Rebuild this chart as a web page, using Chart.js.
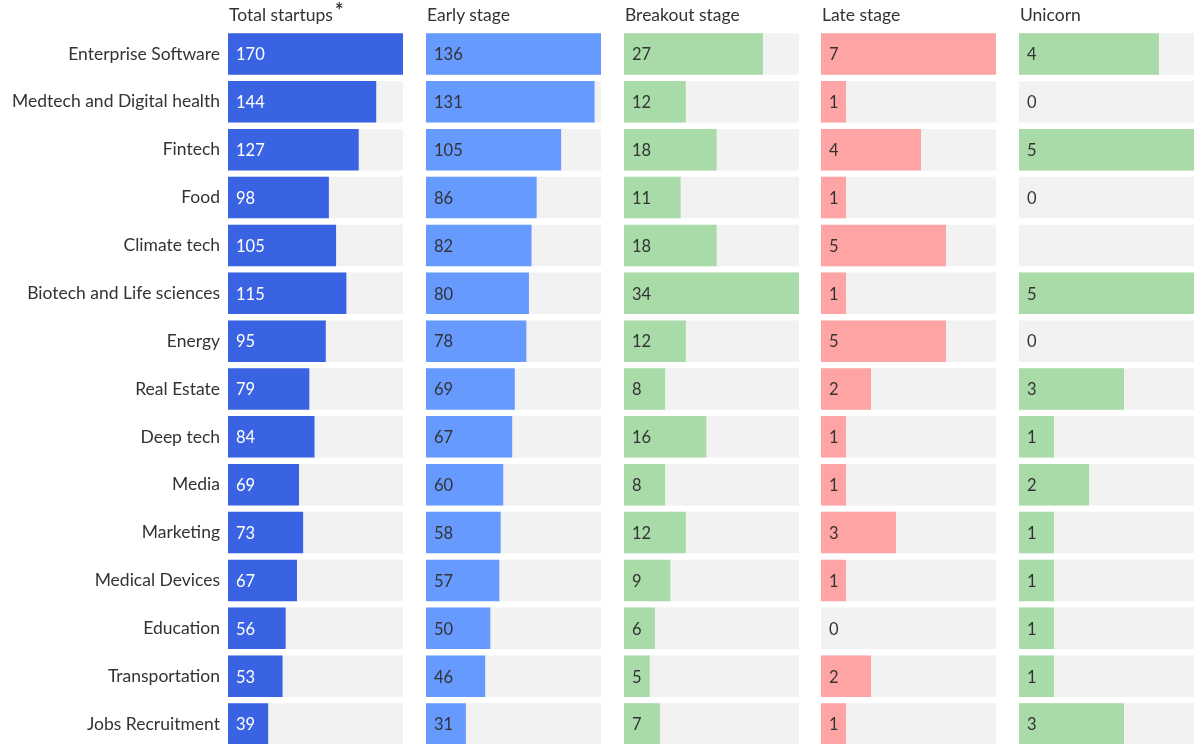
<!DOCTYPE html>
<html>
<head>
<meta charset="utf-8">
<script src="https://cdn.jsdelivr.net/npm/chart.js@4.4.1/dist/chart.umd.min.js"></script>
<style>
  html, body { margin: 0; padding: 0; background: #fff; overflow: hidden; }
  body { width: 1201px; height: 744px; position: relative; font-family: Lato, sans-serif; color: #333; }
  .col { position: absolute; top: 0; }
  .col canvas { display: block; }
  .head { position: absolute; top: 5px; font-size: 17.5px; line-height: 20px; white-space: nowrap; }
  .head sup { font-size: 20px; font-weight: bold; position: relative; top: 0px; vertical-align: top; line-height: 10px; margin-left: 2px; }
</style>
</head>
<body>
<script>
const categories = [
  'Enterprise Software', 'Medtech and Digital health', 'Fintech', 'Food', 'Climate tech',
  'Biotech and Life sciences', 'Energy', 'Real Estate', 'Deep tech', 'Media',
  'Marketing', 'Medical Devices', 'Education', 'Transportation', 'Jobs Recruitment'
]
const totalStartups = [170, 144, 127, 98, 105, 115, 95, 79, 84, 69, 73, 67, 56, 53, 39]
const earlyStage = [136, 131, 105, 86, 82, 80, 78, 69, 67, 60, 58, 57, 50, 46, 31]
const breakoutStage = [27, 12, 18, 11, 18, 34, 12, 8, 16, 8, 12, 9, 6, 5, 7]
const lateStage = [7, 1, 4, 1, 5, 1, 5, 2, 1, 1, 3, 1, 0, 2, 1]
const unicorn = [4, 0, 5, 0, null, 5, 0, 3, 1, 2, 1, 1, 1, 1, 3]
const headers = ['Total startups', 'Early stage', 'Breakout stage', 'Late stage', 'Unicorn']

const FONT = 'Lato, sans-serif'
const TRACK = '#f2f2f2'

const columns = [
  { title: headers[0], data: totalStartups, color: '#3a63e3', text: '#ffffff', left: 228, star: true },
  { title: headers[1], data: earlyStage, color: '#669aff', text: '#333333', left: 426 },
  { title: headers[2], data: breakoutStage, color: '#a8dba8', text: '#333333', left: 624 },
  { title: headers[3], data: lateStage, color: '#ffa4a4', text: '#333333', left: 821 },
  { title: headers[4], data: unicorn, color: '#a8dba8', text: '#333333', left: 1019 }
]
const COL_WIDTH = 175
const CANVAS_HEIGHT = 748

// value written inside the bar, near its start
const valueLabels = {
  id: 'valueLabels',
  afterDatasetsDraw(chart, args, opts) {
    const { ctx, chartArea } = chart
    const meta = chart.getDatasetMeta(0)
    const values = chart.data.datasets[0].data
    ctx.save()
    ctx.font = '16.5px ' + FONT
    ctx.fillStyle = opts.color
    ctx.textBaseline = 'middle'
    ctx.textAlign = 'left'
    meta.data.forEach((bar, i) => {
      if (values[i] === null) return
      ctx.fillText(String(values[i]), chartArea.left + 8, bar.y + 1)
    })
    ctx.restore()
  }
}

columns.forEach((col, idx) => {
  const first = idx === 0
  const width = first ? col.left + COL_WIDTH : COL_WIDTH
  const wrap = document.createElement('div')
  wrap.className = 'col'
  wrap.style.left = (first ? 0 : col.left) + 'px'
  const canvas = document.createElement('canvas')
  canvas.width = width
  canvas.height = CANVAS_HEIGHT
  wrap.appendChild(canvas)
  document.body.appendChild(wrap)

  const head = document.createElement('div')
  head.className = 'head'
  head.style.left = (col.left + 1) + 'px'
  head.innerHTML = col.title + (col.star ? '<sup>*</sup>' : '')
  document.body.appendChild(head)

  const max = Math.max(...col.data.filter((v) => v !== null))

  const yAxis = {
    display: first,
    border: { display: false },
    grid: { display: false, drawTicks: false },
    ticks: {
      padding: 8,
      color: '#333',
      font: { family: FONT, size: 17.5 }
    }
  }
  if (first) {
    yAxis.afterFit = (scale) => {
      scale.width = col.left
      scale.paddingTop = 0
      scale.paddingBottom = 0
    }
  }

  new Chart(canvas, {
    type: 'bar',
    plugins: [valueLabels],
    data: {
      labels: categories,
      datasets: [
        {
          data: col.data,
          backgroundColor: col.color,
          grouped: false,
          order: 0,
          barPercentage: 1,
          categoryPercentage: 0.867
        },
        {
          data: categories.map(() => max),
          backgroundColor: TRACK,
          grouped: false,
          order: 1,
          barPercentage: 1,
          categoryPercentage: 0.867
        }
      ]
    },
    options: {
      indexAxis: 'y',
      animation: false,
      responsive: false,
      layout: { padding: { top: 30, left: 0, right: 0, bottom: 0 } },
      plugins: {
        legend: { display: false },
        tooltip: { enabled: false },
        valueLabels: { color: col.text }
      },
      scales: {
        x: { display: false, min: 0, max: max },
        y: yAxis
      }
    }
  })
})
</script>
</body>
</html>
